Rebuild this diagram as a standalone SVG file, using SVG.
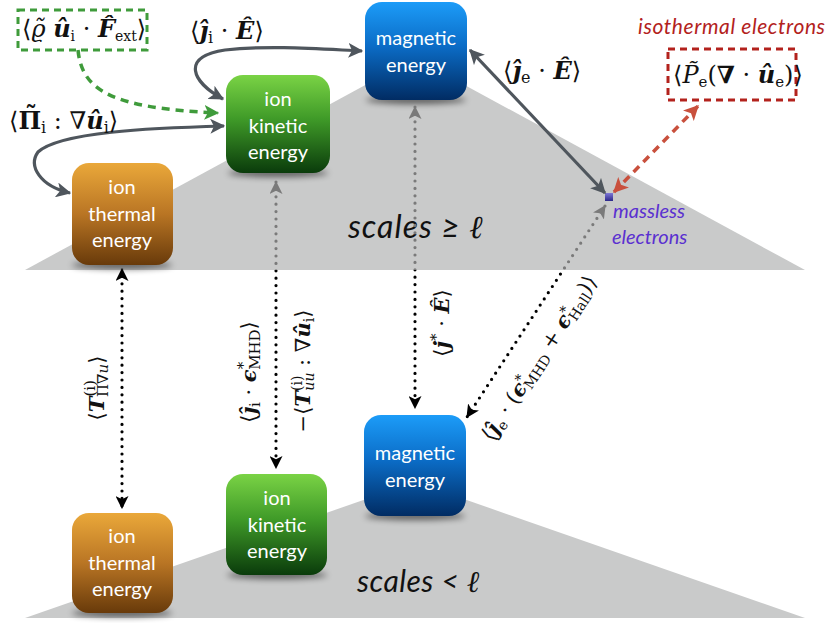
<svg xmlns="http://www.w3.org/2000/svg" width="830" height="623" viewBox="0 0 830 623">
<style>
.lbl{font-family:Lato,"Open Sans","DejaVu Sans",sans-serif;font-size:20px;fill:#fff;text-anchor:middle}
.m{font-family:"DejaVu Serif",serif;font-size:24px;fill:#111}
.r{font-size:21px;text-anchor:middle}
.v{font-weight:bold;font-style:italic}
.b{font-weight:bold}
.sb{font-size:16px}
.rs{font-size:15px}
.it{font-family:Lato,"Open Sans","DejaVu Sans",sans-serif;font-style:italic}
.dot{fill:none;stroke:url(#dotg);stroke-width:3.2;stroke-dasharray:0 7.4;stroke-linecap:round}
.sol{fill:none;stroke:#4f565d;stroke-width:3.2}
</style>
<defs>
<linearGradient id="gBlue" x1="0" y1="0" x2="0" y2="1"><stop offset="0" stop-color="#1c9cf8"/><stop offset="0.45" stop-color="#0b6cc6"/><stop offset="1" stop-color="#012c63"/></linearGradient>
<linearGradient id="gGreen" x1="0" y1="0" x2="0" y2="1"><stop offset="0" stop-color="#7ad345"/><stop offset="0.45" stop-color="#3f9a28"/><stop offset="1" stop-color="#0a3b0b"/></linearGradient>
<linearGradient id="gOrange" x1="0" y1="0" x2="0" y2="1"><stop offset="0" stop-color="#eaa83a"/><stop offset="0.5" stop-color="#b97524"/><stop offset="1" stop-color="#683a0a"/></linearGradient>
<linearGradient id="gSq" x1="0" y1="0" x2="0" y2="1"><stop offset="0" stop-color="#7e78d8"/><stop offset="1" stop-color="#2c278a"/></linearGradient>
<linearGradient id="dotg" gradientUnits="userSpaceOnUse" x1="0" y1="0" x2="0" y2="623"><stop offset="0" stop-color="#7a7a7a"/><stop offset="0.4334" stop-color="#7a7a7a"/><stop offset="0.4334" stop-color="#000"/><stop offset="1" stop-color="#000"/></linearGradient>
<filter id="blur" x="-20%" y="-200%" width="140%" height="500%"><feGaussianBlur stdDeviation="3"/></filter>
<marker id="aSl" viewBox="0 0 12 12" refX="11" refY="6" markerWidth="15" markerHeight="15" markerUnits="userSpaceOnUse" orient="auto-start-reverse"><path d="M0,0 L12,6 L0,12 L3,6 z" fill="#4f565d"/></marker>
<marker id="aBk" viewBox="0 0 12 12" refX="11" refY="6" markerWidth="13" markerHeight="13" markerUnits="userSpaceOnUse" orient="auto-start-reverse"><path d="M0,0 L12,6 L0,12 L3,6 z" fill="#000"/></marker>
<marker id="aGy" viewBox="0 0 12 12" refX="11" refY="6" markerWidth="13" markerHeight="13" markerUnits="userSpaceOnUse" orient="auto-start-reverse"><path d="M0,0 L12,6 L0,12 L3,6 z" fill="#7a7a7a"/></marker>
<marker id="aGr" viewBox="0 0 12 12" refX="11" refY="6" markerWidth="15" markerHeight="15" markerUnits="userSpaceOnUse" orient="auto-start-reverse"><path d="M0,0 L12,6 L0,12 L3,6 z" fill="#3f9b3b"/></marker>
<marker id="aRd" viewBox="0 0 12 12" refX="11" refY="6" markerWidth="15" markerHeight="15" markerUnits="userSpaceOnUse" orient="auto-start-reverse"><path d="M0,0 L12,6 L0,12 L3,6 z" fill="#c9503d"/></marker>
</defs>
<rect width="830" height="623" fill="#fff"/>
<g id="planes">
<polygon points="25,270 415,58 805,270" fill="#c9caca"/>
<polygon points="25,618 415,482 805,618" fill="#c9caca"/>
</g>
<g id="shadows" filter="url(#blur)" fill="#000" opacity="0.55">
<ellipse cx="122" cy="265" rx="50" ry="4"/>
<ellipse cx="278" cy="173" rx="50" ry="4"/>
<ellipse cx="416" cy="100" rx="50" ry="4"/>
<ellipse cx="122" cy="613" rx="50" ry="4"/>
<ellipse cx="277" cy="575" rx="50" ry="4"/>
<ellipse cx="415" cy="516" rx="50" ry="4"/>
</g>
<g id="mag-top"><rect x="365" y="2" width="102" height="98" rx="17" fill="url(#gBlue)"/><text class="lbl" x="416" y="45">magnetic</text><text class="lbl" x="416" y="72">energy</text></g>
<g id="kin-top"><rect x="226" y="75" width="104" height="98" rx="17" fill="url(#gGreen)"/><text class="lbl" x="278" y="106">ion</text><text class="lbl" x="278" y="133">kinetic</text><text class="lbl" x="278" y="159">energy</text></g>
<g id="therm-top"><rect x="72" y="163" width="101" height="102" rx="17" fill="url(#gOrange)"/><text class="lbl" x="122" y="194">ion</text><text class="lbl" x="122" y="221">thermal</text><text class="lbl" x="122" y="247">energy</text></g>
<g id="mag-bot"><rect x="364" y="415" width="102" height="101" rx="17" fill="url(#gBlue)"/><text class="lbl" x="415" y="460">magnetic</text><text class="lbl" x="415" y="487">energy</text></g>
<g id="kin-bot"><rect x="226" y="474" width="101" height="101" rx="17" fill="url(#gGreen)"/><text class="lbl" x="277" y="505">ion</text><text class="lbl" x="277" y="532">kinetic</text><text class="lbl" x="277" y="558">energy</text></g>
<g id="therm-bot"><rect x="72" y="513" width="101" height="100" rx="17" fill="url(#gOrange)"/><text class="lbl" x="122" y="543">ion</text><text class="lbl" x="122" y="570">thermal</text><text class="lbl" x="122" y="596">energy</text></g>
<g id="electrons"><rect x="605" y="193" width="8" height="8" fill="url(#gSq)"/><text class="it" x="613" y="218" font-size="20" fill="#5a30d0">massless</text><text class="it" x="612" y="244" font-size="20" fill="#5a30d0">electrons</text></g>
<g id="fext"><rect x="18" y="10" width="129" height="40" fill="none" stroke="#3f9b3b" stroke-width="3" stroke-dasharray="7,5"/>
<text class="m" x="22" y="37" font-size="20">⟨<tspan font-style="italic">ϱ̃</tspan> <tspan class="v">û</tspan><tspan font-size="14" dy="4">i</tspan><tspan dy="-4"> · </tspan><tspan class="v">F̂</tspan><tspan font-size="14" dy="4">ext</tspan><tspan dy="-4">⟩</tspan></text></g>
<g id="isothermal"><text class="it" x="638" y="34" font-size="21" letter-spacing="0.6" fill="#b3221d">isothermal electrons</text>
<rect x="668" y="49" width="128" height="51" fill="none" stroke="#b3221d" stroke-width="3" stroke-dasharray="7,5"/>
<text class="m" x="673" y="83" font-size="20">⟨<tspan font-style="italic">P̃</tspan><tspan font-size="15" dy="4">e</tspan><tspan dy="-4">(</tspan><tspan class="b">∇</tspan> · <tspan class="v">û</tspan><tspan font-size="15" dy="4">e</tspan><tspan dy="-4">)⟩</tspan></text></g>
<g id="scale-labels">
<text class="it" x="348" y="238" font-size="32" letter-spacing="1" fill="#111">scales ≥ <tspan font-family="Liberation Serif,serif">ℓ</tspan></text>
<text class="it" x="357" y="592" font-size="30" letter-spacing="0.5" fill="#111">scales &lt; <tspan font-family="Liberation Serif,serif">ℓ</tspan></text>
</g>
<g id="connectors">
<path class="dot" d="M122,269 L122,508" marker-start="url(#aBk)" marker-end="url(#aBk)"/>
<path class="dot" d="M276,182 L276,468" marker-start="url(#aGy)" marker-end="url(#aBk)"/>
<path class="dot" d="M415,107 L415,408" marker-start="url(#aGy)" marker-end="url(#aBk)"/>
<path class="dot" d="M605,206 L467,417" marker-start="url(#aGy)" marker-end="url(#aBk)"/>
<path class="sol" d="M223,99 C192,82 180,57 225,50 C270,45 320,49 362,51" marker-start="url(#aSl)" marker-end="url(#aSl)"/>
<path class="sol" d="M224,126 C150,128 60,132 38,152 C28,166 40,186 70,193" marker-start="url(#aSl)" marker-end="url(#aSl)"/>
<path class="sol" d="M470,50 L605,193" marker-start="url(#aSl)" marker-end="url(#aSl)"/>
<path d="M78,50 C82,90 110,108 218,113" fill="none" stroke="#3f9b3b" stroke-width="3.5" stroke-dasharray="8,6" marker-end="url(#aGr)"/>
<path d="M614,192 L698,106" fill="none" stroke="#c9503d" stroke-width="3.5" stroke-dasharray="8,6" marker-start="url(#aRd)" marker-end="url(#aRd)"/>
<text class="m" x="190" y="39">⟨<tspan class="v">ĵ</tspan><tspan class="sb" dy="4">i</tspan><tspan dy="-4"> · </tspan><tspan class="v">Ê</tspan>⟩</text>
<text class="m" x="9" y="129">⟨<tspan class="b">Π</tspan><tspan class="b" dx="-16" dy="-5">˜</tspan><tspan class="sb" dx="4" dy="9">i</tspan><tspan dy="-4"> : ∇</tspan><tspan class="v">û</tspan><tspan class="sb" dy="4">i</tspan><tspan dy="-4">⟩</tspan></text>
<text class="m" x="503" y="79">⟨<tspan class="v">ĵ</tspan><tspan class="sb" dy="4">e</tspan><tspan dy="-4"> · </tspan><tspan class="v">Ê</tspan>⟩</text>
<text class="m r" font-size="22" transform="translate(104,388) rotate(-90)">⟨<tspan class="v">T</tspan><tspan class="rs" dy="-9">(i)</tspan><tspan class="rs" dy="13" dx="-17">Π∇<tspan font-style="italic">u</tspan></tspan><tspan dy="-4">⟩</tspan></text>
<text class="m r" transform="translate(256,372) rotate(-90)">⟨<tspan class="v">ĵ</tspan><tspan class="rs" dy="4">i</tspan><tspan dy="-4"> · </tspan><tspan class="v">ϵ</tspan><tspan class="rs" dy="-8">*</tspan><tspan class="rs" dy="12" dx="-8">MHD</tspan><tspan dy="-4">⟩</tspan></text>
<text class="m r" font-size="19" transform="translate(310,371) rotate(-90)">−⟨<tspan class="v">T</tspan><tspan font-size="14" dy="-8">(i)</tspan><tspan font-size="14" dy="12" dx="-15" font-style="italic">uu</tspan><tspan dy="-4"> : ∇</tspan><tspan class="v">û</tspan><tspan font-size="14" dy="4">i</tspan><tspan dy="-4">⟩</tspan></text>
<text class="m r" font-size="22" transform="translate(449,323) rotate(-90)">⟨<tspan class="v">j</tspan><tspan class="rs" dy="-8">*</tspan><tspan dy="8"> · </tspan><tspan class="v">Ê</tspan>⟩</text>
<text class="m r" font-size="19" transform="translate(545,362) rotate(-56.8)">⟨<tspan class="v">ĵ</tspan><tspan font-size="14" dy="4">e</tspan><tspan dy="-4"> · (</tspan><tspan class="v">ϵ</tspan><tspan font-size="14" dy="-7">*</tspan><tspan font-size="14" dy="11" dx="-7">MHD</tspan><tspan dy="-4"> + </tspan><tspan class="v">ϵ</tspan><tspan font-size="14" dy="-7">*</tspan><tspan font-size="14" dy="11" dx="-7">Hall</tspan><tspan dy="-4">)⟩</tspan></text>
</g>
</svg>
